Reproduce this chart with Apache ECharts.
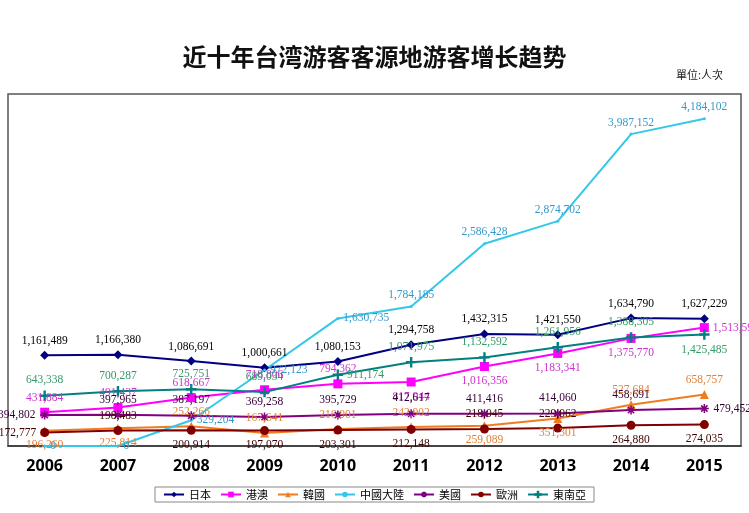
<!DOCTYPE html>
<html>
<head>
<meta charset="UTF-8">
<title>近十年台湾游客客源地游客增长趋势</title>
<style>
html,body{margin:0;padding:0;background:#fff;}
#picContainer{width:749px;height:513px;}
</style>
</head>
<body>
<div id="picContainer"></div>
<script src="https://cdn.jsdelivr.net/npm/echarts@6/dist/echarts.min.js"></script>
<script>
var years = ['2006','2007','2008','2009','2010','2011','2012','2013','2014','2015'];
var japan  = [1161489,1166380,1086691,1000661,1080153,1294758,1432315,1421550,1634790,1627229];
var hkMacau = [431884,491437,618667,718806,794362,817944,1016356,1183341,1375770,1513597];
var korea  = [196260,225814,252266,167641,216901,242902,259089,351301,527684,658757];
var china  = [0,0,329204,972123,1630735,1784185,2586428,2874702,3987152,4184102];
var usa    = [394802,397965,387197,369258,395729,412617,411416,414060,458691,479452];
var europe = [172777,198483,200914,197070,203301,212148,218045,229062,264880,274035];
var seAsia = [643338,700287,725751,689034,911174,1071975,1132592,1261956,1388305,1425485];

// label placement for each point (kept apart from the values)
var japanPos = ['top','top','top','top','top','top','top','top','top','top'];
var hkPos    = ['top','top','top','top','top','bottom','bottom','bottom','bottom','right'];
var koreaPos = ['bottom','bottom','top','top','top','top','bottom','bottom','top','top'];
var chinaPos = ['right','right','right','right','right','top','top','top','top','top'];
var usaPos   = ['left','top','top','top','top','top','top','top','top','right'];
var euroPos  = ['left','top','bottom','bottom','bottom','bottom','top','top','bottom','bottom'];
var seaPos   = ['top','top','top','top','right','top','top','top','top','bottom'];

var fmt = function (p) { return p.value.toLocaleString('en-US'); };

var starPath = 'path://M10,0L10,20M0,10L20,10M3,3L17,17M17,3L3,17';
var plusPath = 'path://M9,0H11V20H9ZM0,9H20V11H0Z';

function build(name, values, pos, color, labelColor, symbol, size){
    var d = [];
    for (var i = 0; i < values.length; i++) {
        d.push({value: values[i], label: {position: pos[i]}});
    }
    return {
        name: name,
        type: 'line',
        data: d,
        symbol: symbol,
        symbolSize: size,
        showSymbol: true,
        lineStyle: {color: color, width: 2},
        itemStyle: {color: color, borderColor: color, borderWidth: symbol.indexOf('path') === 0 ? 1.5 : 0},
        label: {
            show: true,
            formatter: fmt,
            color: labelColor,
            fontFamily: 'Liberation Serif',
            fontSize: 11.5,
            distance: 4
        },
        emphasis: {disabled: true},
        animation: false
    };
}

var myChart = echarts.init(document.getElementById('picContainer'));
var option = {
    backgroundColor: '#fff',
    title: [{
        text: '近十年台湾游客客源地游客增长趋势',
        left: 'center',
        top: 40,
        textStyle: {fontFamily: 'Noto Sans CJK SC', fontSize: 24, fontWeight: 'bold', color: '#111'}
    }, {
        text: '單位:人次',
        left: 671,
        top: 64,
        textStyle: {fontFamily: 'Noto Sans CJK TC', fontSize: 11, fontWeight: 'normal', color: '#222'}
    }],
    legend: {
        bottom: 11,
        left: 'center',
        itemWidth: 20,
        itemHeight: 7,
        itemGap: 9,
        padding: [2, 8],
        borderColor: '#888',
        borderWidth: 1,
        textStyle: {fontFamily: 'Noto Sans CJK TC', fontSize: 11, color: '#000'},
        data: ['日本','港澳','韓國','中國大陸','美國','歐洲','東南亞']
    },
    grid: {
        left: 8, right: 8, top: 94, bottom: 67,
        show: true,
        borderColor: '#555',
        borderWidth: 1.5,
        containLabel: false
    },
    xAxis: {
        type: 'category',
        data: years,
        boundaryGap: true,
        axisLine: {lineStyle: {color: '#333', width: 1.5}},
        axisTick: {inside: true, length: 5, lineStyle: {color: '#333'}},
        axisLabel: {
            margin: 12,
            color: '#000',
            fontFamily: 'Open Sans',
            fontSize: 16,
            fontWeight: 'bold'
        }
    },
    yAxis: {
        type: 'value',
        min: 0,
        max: 4500000,
        show: false,
        splitLine: {show: false}
    },
    series: [
        build('日本', japan, japanPos, '#000080', '#000', 'diamond', 9),
        build('港澳', hkMacau, hkPos, '#ff00ff', '#cc33cc', 'rect', 9),
        build('韓國', korea, koreaPos, '#f07c20', '#e0803a', 'triangle', 9),
        build('中國大陸', china, chinaPos, '#33c8e8', '#3399cc', 'circle', 3),
        build('美國', usa, usaPos, '#800080', '#330033', starPath, 9),
        build('歐洲', europe, euroPos, '#800000', '#400000', 'circle', 9),
        build('東南亞', seAsia, seaPos, '#008080', '#339966', plusPath, 9)
    ]
};
myChart.setOption(option);
</script>
</body>
</html>
